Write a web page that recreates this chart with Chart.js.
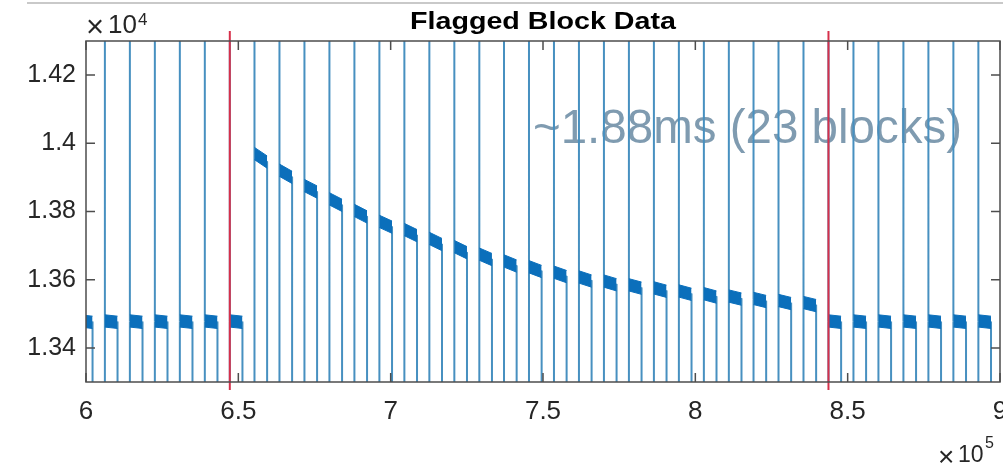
<!DOCTYPE html>
<html>
<head>
<meta charset="utf-8">
<title>Flagged Block Data</title>
<script src="https://cdn.jsdelivr.net/npm/chart.js@4.4.1/dist/chart.umd.min.js"></script>
<style>
  html, body { margin: 0; padding: 0; background: #fff; }
  #wrap { position: relative; width: 1003px; height: 466px; overflow: hidden; }
  #chartBlok { position: absolute; left: 0; top: 0; }
  #garisAtas { position: absolute; left: 27px; right: 0; top: 2px; height: 2px; background: #c9c9c9; }
</style>
</head>
<body>
<div id="wrap">
  <canvas id="chartBlok" width="1003" height="466"></canvas>
  <div id="garisAtas"></div>
</div>
<script>
// sample index where each block starts (the full-height spike)
const blockStart = [
  598000, 606200, 614400, 622600, 630800, 639000, 647200, 655300, 663500, 671700,
  679900, 688100, 696300, 704500, 712700, 720900, 729100, 737200, 745400, 753600,
  761800, 770000, 778200, 786400, 794600, 802800, 811000, 819100, 827300, 835500,
  843700, 851900, 860100, 868300, 876500, 884700, 892900
];
// length of the flat (noisy) part of a block, in samples
const blockLength = 4150;

// level at the start and at the end of every block
const levelStart = [
  13479, 13479, 13479, 13479, 13479, 13479, 13479,
  13970, 13921, 13876, 13837, 13803, 13771, 13747, 13721, 13697, 13675, 13655, 13638,
  13622, 13608, 13596, 13585, 13576, 13567, 13559, 13552, 13545, 13539, 13533,
  13479, 13479, 13479, 13479, 13479, 13479, 13479
];
const levelEnd = [
  13475, 13475, 13475, 13475, 13475, 13475, 13475,
  13945, 13900, 13857, 13818, 13784, 13754, 13729, 13703, 13679, 13659, 13640, 13624,
  13609, 13596, 13585, 13575, 13566, 13557, 13549, 13543, 13536, 13530, 13524,
  13475, 13475, 13475, 13475, 13475, 13475, 13475
];
// half height of the noise band on the flat part
const noiseHalf = 18;

// spike goes far above / below the visible window
const spikeHigh = 15000;
const spikeLow = 13000;

// red markers around the flagged region
const flagMarks = [647200, 843700];

const xTicks = [600000, 650000, 700000, 750000, 800000, 850000, 900000];
const xTickLabels = ['6', '6.5', '7', '7.5', '8', '8.5', '9'];
const yTicks = [13400, 13600, 13800, 14000, 14200];
const yTickLabels = ['1.34', '1.36', '1.38', '1.4', '1.42'];

const titleText = 'Flagged Block Data';
const noteText = '~1.88ms (23 blocks)';
const noteAt = { x: 746700, y: 14000 };

const FONT = '"Liberation Sans", Arial, Helvetica, sans-serif';
const BLUE = '#0b6fbb';

// thin trace: spike up, settle on the level, drop out of view
function buildTrace() {
    const pts = [];
    blockStart.forEach((x0, i) => {
        const x1 = x0 + blockLength;
        pts.push({ x: x0, y: spikeLow });
        pts.push({ x: x0, y: spikeHigh });
        pts.push({ x: x0, y: levelStart[i] });
        pts.push({ x: x1, y: levelEnd[i] });
        pts.push({ x: x1, y: spikeLow });
    });
    return pts;
}

// upper / lower edge of the noise band, one piece per block
function buildBandEdge(sign) {
    const pts = [];
    blockStart.forEach((x0, i) => {
        const x1 = x0 + blockLength;
        pts.push({ x: x0, y: levelStart[i] + sign * noiseHalf });
        pts.push({ x: x1, y: levelEnd[i] + sign * noiseHalf });
        pts.push({ x: x1, y: null });
    });
    return pts;
}

// MATLAB style frame, inward ticks, red markers, title and exponents
const matlabFrame = {
    id: 'matlabFrame',
    beforeDatasetsDraw(chart) {
        const { ctx, scales } = chart;
        ctx.save();
        ctx.fillStyle = '#7f9bb0';
        ctx.font = '47.5px ' + FONT;
        ctx.textAlign = 'left';
        ctx.textBaseline = 'alphabetic';
        ctx.fillText(noteText, scales.x.getPixelForValue(noteAt.x), scales.y.getPixelForValue(noteAt.y));
        ctx.restore();
    },
    afterDatasetsDraw(chart) {
        const { ctx, chartArea: a, scales } = chart;
        ctx.save();
        // red markers stick out a little past the box
        ctx.strokeStyle = '#d6304a';
        ctx.lineWidth = 2;
        flagMarks.forEach(v => {
            const px = scales.x.getPixelForValue(v);
            ctx.beginPath();
            ctx.moveTo(px, a.top - 10);
            ctx.lineTo(px, a.bottom + 8);
            ctx.stroke();
        });

        ctx.strokeStyle = '#4d4d4d';
        ctx.lineWidth = 1.5;
        ctx.strokeRect(a.left, a.top, a.right - a.left, a.bottom - a.top);
        const tl = 9;
        ctx.beginPath();
        xTicks.forEach(v => {
            const px = scales.x.getPixelForValue(v);
            ctx.moveTo(px, a.bottom); ctx.lineTo(px, a.bottom - tl);
            ctx.moveTo(px, a.top); ctx.lineTo(px, a.top + tl);
        });
        yTicks.forEach(v => {
            const py = scales.y.getPixelForValue(v);
            ctx.moveTo(a.left, py); ctx.lineTo(a.left + tl, py);
            ctx.moveTo(a.right, py); ctx.lineTo(a.right - tl, py);
        });
        ctx.stroke();
        ctx.restore();
    },
    afterDraw(chart) {
        const { ctx, chartArea: a } = chart;
        ctx.save();
        // title (the original is stretched sideways)
        ctx.translate((a.left + a.right) / 2, 29);
        ctx.scale(1.17, 1);
        ctx.fillStyle = '#000';
        ctx.font = 'bold 24.5px ' + FONT;
        ctx.textAlign = 'center';
        ctx.textBaseline = 'alphabetic';
        ctx.fillText(titleText, 0, 0);
        ctx.restore();

        ctx.save();
        ctx.fillStyle = '#262626';
        ctx.textAlign = 'left';
        ctx.textBaseline = 'alphabetic';
        // x10^4 above the y axis
        ctx.font = '31px ' + FONT;
        ctx.fillText('\u00d7', a.left, 37);
        ctx.font = '26px ' + FONT;
        ctx.fillText('10', a.left + 22, 33);
        ctx.font = '17px ' + FONT;
        ctx.fillText('4', a.left + 52, 25);
        // x10^5 under the x axis
        ctx.font = '28px ' + FONT;
        ctx.fillText('\u00d7', a.right - 62, 466);
        ctx.font = '23px ' + FONT;
        ctx.fillText('10', a.right - 42, 462);
        ctx.font = '16px ' + FONT;
        ctx.fillText('5', a.right - 15, 448);
        ctx.restore();
    }
};

function initChart() {
    const ctx = document.getElementById('chartBlok');
    new Chart(ctx, {
        type: 'line',
        data: {
            datasets: [
                {
                    label: 'band top',
                    data: buildBandEdge(1),
                    borderColor: BLUE,
                    borderWidth: 1,
                    backgroundColor: BLUE,
                    fill: '+1',
                    pointRadius: 0,
                    spanGaps: false,
                    order: 0
                },
                {
                    label: 'band bottom',
                    data: buildBandEdge(-1),
                    borderColor: BLUE,
                    borderWidth: 1,
                    fill: false,
                    pointRadius: 0,
                    spanGaps: false,
                    order: 0
                },
                {
                    label: 'trace',
                    data: buildTrace(),
                    borderColor: '#4790c0',
                    borderWidth: 2,
                    pointRadius: 0,
                    order: 1
                }
            ]
        },
        options: {
            responsive: false,
            animation: false,
            events: [],
            layout: { padding: { left: 0, top: 41, right: 3, bottom: 0 } },
            plugins: { legend: { display: false }, tooltip: { enabled: false } },
            scales: {
                x: {
                    type: 'linear',
                    min: 600000,
                    max: 900000,
                    grid: { display: false, drawTicks: false },
                    border: { display: false },
                    afterBuildTicks: s => { s.ticks = xTicks.map(v => ({ value: v })); },
                    afterFit: s => { s.height = 84; s.paddingLeft = 0; s.paddingRight = 0; },
                    ticks: {
                        autoSkip: false,
                        maxRotation: 0,
                        padding: 14,
                        color: '#262626',
                        font: { family: FONT, size: 26 },
                        callback: (v, i) => xTickLabels[i]
                    }
                },
                y: {
                    type: 'linear',
                    min: 13300,
                    max: 14300,
                    grid: { display: false, drawTicks: false },
                    border: { display: false },
                    afterBuildTicks: s => { s.ticks = yTicks.map(v => ({ value: v })); },
                    afterFit: s => { s.width = 86; s.paddingTop = 0; s.paddingBottom = 0; },
                    ticks: {
                        autoSkip: false,
                        padding: 10,
                        color: '#262626',
                        font: { family: FONT, size: 25 },
                        callback: (v, i) => yTickLabels[i]
                    }
                }
            }
        },
        plugins: [matlabFrame]
    });
}

initChart();
</script>
</body>
</html>
